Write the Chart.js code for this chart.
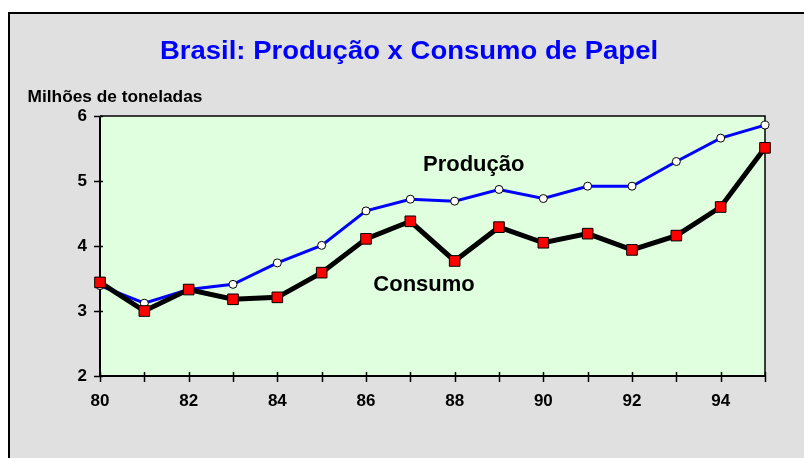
<!DOCTYPE html>
<html>
<head>
<meta charset="utf-8">
<script src="https://cdn.jsdelivr.net/npm/chart.js@4"></script>
<style>
  html, body { margin: 0; padding: 0; background: #fff; }
  #wrap { width: 804px; height: 458px; position: relative; }
</style>
</head>
<body>
<div id="wrap"><canvas id="papelChart" width="804" height="458"></canvas></div>
<script>
// dados
const anos = ['80','81','82','83','84','85','86','87','88','89','90','91','92','93','94','95'];
const producao = [3.39, 3.12, 3.33, 3.41, 3.74, 4.01, 4.54, 4.72, 4.69, 4.87, 4.73, 4.92, 4.92, 5.30, 5.66, 5.86];
const consumo  = [3.44, 3.00, 3.33, 3.18, 3.21, 3.59, 4.11, 4.38, 3.77, 4.29, 4.05, 4.19, 3.94, 4.16, 4.60, 5.51];
const yTicks = [2, 3, 4, 5, 6];

const FONTE = '"Liberation Sans", Arial, sans-serif';

// texto centrado, um pouco esticado na horizontal como no original
function textoLargo(ctx, txt, x, y, sx) {
  ctx.save();
  ctx.translate(x, y);
  ctx.scale(sx, 1);
  ctx.fillText(txt, 0, 0);
  ctx.restore();
}

// fundo cinza, titulo, moldura da area e marcas dos eixos
const moldura = {
  id: 'moldura',
  beforeDraw(chart) {
    const ctx = chart.ctx;
    ctx.save();
    ctx.fillStyle = '#e0e0e0';
    ctx.fillRect(9, 13, 800, 450);
    ctx.strokeStyle = '#000';
    ctx.lineWidth = 2;
    ctx.strokeRect(9, 13, 800, 450);

    ctx.textAlign = 'center';
    ctx.textBaseline = 'middle';
    ctx.fillStyle = '#0000ff';
    ctx.font = 'bold 25px ' + FONTE;
    textoLargo(ctx, 'Brasil: Produção x Consumo de Papel', 409, 52, 1.1);

    ctx.fillStyle = '#000';
    ctx.font = 'bold 16px ' + FONTE;
    textoLargo(ctx, 'Milhões de toneladas', 115, 98, 1.08);

    const a = chart.chartArea;
    ctx.fillStyle = '#dfffdf';
    ctx.fillRect(a.left, a.top, a.right - a.left, a.bottom - a.top);
    ctx.restore();
  },
  beforeDatasetsDraw(chart) {
    const ctx = chart.ctx;
    const a = chart.chartArea;
    const xs = chart.scales.x, ys = chart.scales.y;
    ctx.save();
    ctx.strokeStyle = '#000';
    ctx.lineWidth = 1.5;
    ctx.beginPath();
    ctx.moveTo(a.left, a.top); ctx.lineTo(a.right, a.top); ctx.lineTo(a.right, a.bottom);
    ctx.stroke();
    ctx.lineWidth = 2;
    ctx.beginPath();
    ctx.moveTo(a.left, a.top); ctx.lineTo(a.left, a.bottom); ctx.lineTo(a.right, a.bottom);
    ctx.stroke();
    ctx.lineWidth = 1.5;
    ctx.beginPath();
    anos.forEach((_, i) => {
      const px = Math.round(xs.getPixelForValue(i)) + 0.5;
      ctx.moveTo(px, a.bottom - 4); ctx.lineTo(px, a.bottom + 6);
    });
    yTicks.forEach(v => {
      const py = Math.round(ys.getPixelForValue(v)) + 0.5;
      ctx.moveTo(a.left - 6, py); ctx.lineTo(a.left + 3, py);
    });
    ctx.stroke();
    ctx.restore();
  },
  afterDatasetsDraw(chart) {
    const ctx = chart.ctx;
    const xs = chart.scales.x, ys = chart.scales.y;
    ctx.save();
    ctx.fillStyle = '#000';
    ctx.font = 'bold 22px ' + FONTE;
    ctx.textAlign = 'center';
    ctx.textBaseline = 'middle';
    ctx.fillText('Produção', xs.getPixelForValue(8.43), ys.getPixelForValue(5.24));
    ctx.fillText('Consumo', xs.getPixelForValue(7.31), ys.getPixelForValue(3.40));
    ctx.restore();
  }
};

const ctx = document.getElementById('papelChart').getContext('2d');
const grafico = new Chart(ctx, {
  type: 'line',
  data: {
    labels: anos,
    datasets: [
      {
        label: 'Consumo',
        data: consumo,
        order: 0,
        borderColor: '#000',
        borderWidth: 5,
        tension: 0,
        pointStyle: 'rect',
        pointRadius: 7.5,
        pointBackgroundColor: '#ff0000',
        pointBorderColor: '#000',
        pointBorderWidth: 1
      },
      {
        label: 'Produção',
        data: producao,
        order: 1,
        borderColor: '#0000ff',
        borderWidth: 3,
        tension: 0,
        pointStyle: 'circle',
        pointRadius: 4,
        pointBackgroundColor: '#fff',
        pointBorderColor: '#000',
        pointBorderWidth: 1
      }
    ]
  },
  options: {
    responsive: false,
    animation: false,
    events: [],
    layout: { padding: { left: 60, top: 116, right: 39, bottom: 52 } },
    plugins: {
      legend: { display: false },
      title: { display: false },
      tooltip: { enabled: false }
    },
    scales: {
      x: {
        type: 'category',
        offset: false,
        grid: { display: false, drawTicks: false },
        border: { display: false },
        afterFit(s) { s.height = 30; },
        ticks: {
          autoSkip: false,
          maxRotation: 0,
          padding: 15,
          color: '#000',
          font: { family: FONTE, size: 17, weight: 'bold' },
          callback(v, i) { return i % 2 === 0 ? anos[i] : ''; }
        }
      },
      y: {
        min: 2,
        max: 6,
        grid: { display: false, drawTicks: false },
        border: { display: false },
        afterFit(s) { s.width = 40; },
        afterBuildTicks(s) { s.ticks = yTicks.map(v => ({ value: v })); },
        ticks: {
          padding: 13,
          color: '#000',
          font: { family: FONTE, size: 17, weight: 'bold' }
        }
      }
    }
  },
  plugins: [moldura]
});
</script>
</body>
</html>
